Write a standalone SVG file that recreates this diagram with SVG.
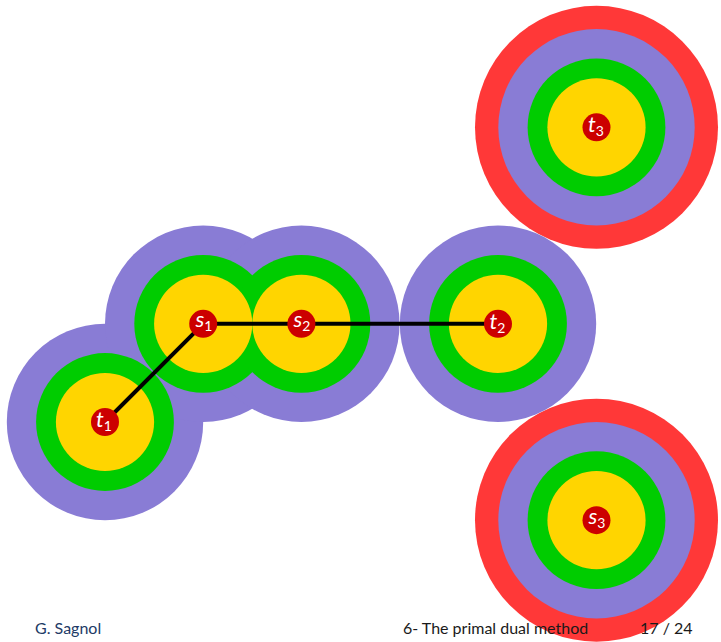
<svg xmlns="http://www.w3.org/2000/svg" width="721" height="642" viewBox="0 0 721 642">
<style>
.red{fill:#FF3838}
.pur{fill:#897CD5}
.grn{fill:#00CC00}
.yel{fill:#FFD500}
.dot{fill:#CC0000}
.lab{font-family:Lato,"Open Sans",sans-serif;fill:#fff;text-anchor:middle}
.m{font-style:italic;font-size:22px}
.sub{font-size:14px}
.edge{stroke:#000;stroke-width:4;fill:none}
.foot{font-family:Lato,"Open Sans",sans-serif;font-size:16px}
</style>
<rect width="721" height="642" fill="#fff"/>
<g id="outer">
<circle class="red" cx="596.5" cy="127.3" r="121.5"/>
<circle class="red" cx="596.5" cy="520.2" r="121.5"/>
<circle class="pur" cx="105" cy="422" r="98.2"/>
<circle class="pur" cx="203.2" cy="323.8" r="98.2"/>
<circle class="pur" cx="301.4" cy="323.8" r="98.2"/>
<circle class="pur" cx="498" cy="323.8" r="98.2"/>
<circle class="pur" cx="596.5" cy="127.3" r="98.2"/>
<circle class="pur" cx="596.5" cy="520.2" r="98.2"/>
<circle class="grn" cx="105" cy="422" r="68.9"/>
<circle class="grn" cx="203.2" cy="323.8" r="68.9"/>
<circle class="grn" cx="301.4" cy="323.8" r="68.9"/>
<circle class="grn" cx="498" cy="323.8" r="68.9"/>
<circle class="grn" cx="596.5" cy="127.3" r="68.9"/>
<circle class="grn" cx="596.5" cy="520.2" r="68.9"/>
<circle class="yel" cx="105" cy="422" r="49.1"/>
<circle class="yel" cx="203.2" cy="323.8" r="49.1"/>
<circle class="yel" cx="301.4" cy="323.8" r="49.1"/>
<circle class="yel" cx="498" cy="323.8" r="49.1"/>
<circle class="yel" cx="596.5" cy="127.3" r="49.1"/>
<circle class="yel" cx="596.5" cy="520.2" r="49.1"/>
</g>
<g id="connectors">
<line class="edge" x1="105" y1="422" x2="203.2" y2="323.8"/>
<line class="edge" x1="203.2" y1="323.8" x2="301.4" y2="323.8"/>
<line class="edge" x1="301.4" y1="323.8" x2="498" y2="323.8"/>
</g>
<g id="t1"><circle class="dot" cx="105" cy="422" r="14"/><text class="lab" x="104" y="426.5"><tspan class="m">t</tspan><tspan class="sub" dy="4">1</tspan></text></g>
<g id="s1"><circle class="dot" cx="203.2" cy="323.8" r="14"/><text class="lab" x="204" y="327"><tspan class="m">s</tspan><tspan class="sub" dy="4">1</tspan></text></g>
<g id="s2"><circle class="dot" cx="301.4" cy="323.8" r="14"/><text class="lab" x="302" y="327"><tspan class="m">s</tspan><tspan class="sub" dy="4">2</tspan></text></g>
<g id="t2"><circle class="dot" cx="498" cy="323.8" r="14"/><text class="lab" x="497.5" y="328.5"><tspan class="m">t</tspan><tspan class="sub" dy="4">2</tspan></text></g>
<g id="t3"><circle class="dot" cx="596.5" cy="127.3" r="14"/><text class="lab" x="596" y="132"><tspan class="m">t</tspan><tspan class="sub" dy="4">3</tspan></text></g>
<g id="s3"><circle class="dot" cx="596.5" cy="520.2" r="14"/><text class="lab" x="597" y="523.5"><tspan class="m">s</tspan><tspan class="sub" dy="4">3</tspan></text></g>
<g id="footer">
<text class="foot" x="35" y="634" fill="#223A66">G. Sagnol</text>
<text class="foot" x="403" y="634" fill="#1a1a1a">6- The primal dual method</text>
<text class="foot" x="640" y="634" fill="#1a1a1a">17 / 24</text>
</g>
</svg>
